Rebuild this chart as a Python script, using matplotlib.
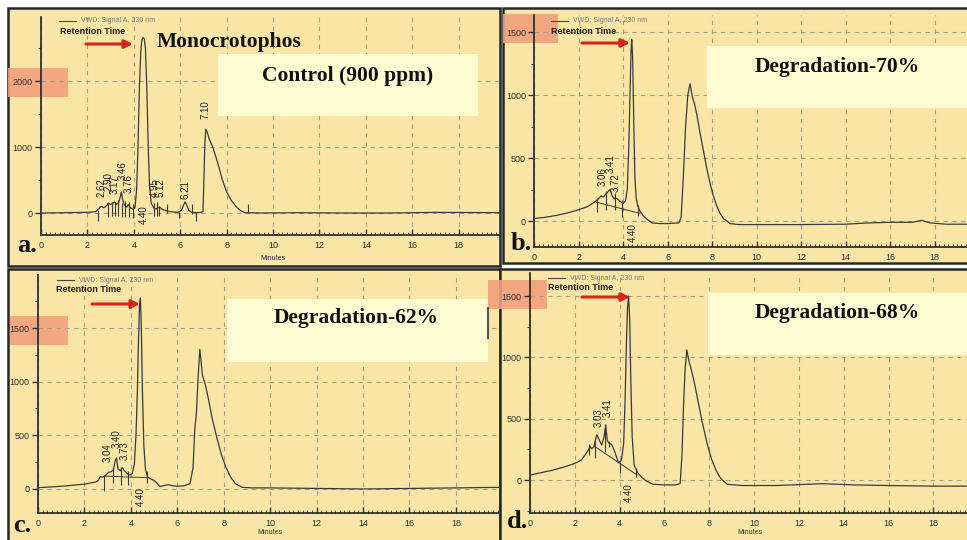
import matplotlib
matplotlib.use('Agg')
import matplotlib.pyplot as plt
from matplotlib.patches import Rectangle
from matplotlib.ticker import MultipleLocator

plt.rcParams['font.family'] = ['Liberation Sans', 'DejaVu Sans']

# ---- a. control (900 ppm) ----
t_ctrl = [0, 1.0, 2.0, 2.35, 2.45, 2.55, 2.62, 2.7, 2.8, 2.9, 3.0, 3.1, 3.17, 3.25, 3.35, 3.42,
          3.46, 3.52, 3.6, 3.7, 3.76, 3.85, 3.95, 4.05, 4.12, 4.18, 4.24, 4.3, 4.35, 4.4, 4.45,
          4.5, 4.56, 4.62, 4.68, 4.75, 4.85, 4.95, 5.05, 5.12, 5.2, 5.35, 5.6, 5.9, 6.05, 6.13,
          6.21, 6.29, 6.37, 6.5, 6.8, 6.98, 7.02, 7.06, 7.1, 7.15, 7.25, 7.4, 7.6, 7.8, 8.0,
          8.2, 8.4, 8.6, 8.8, 9.5, 11, 13, 15, 17, 19.8]
s_ctrl = [0, 5, 10, 20, 50, 90, 100, 80, 100, 150, 130, 150, 170, 130, 160, 250,
          320, 200, 120, 90, 130, 80, 60, 80, 350, 1000, 1900, 2450, 2630, 2660, 2640,
          2500, 1900, 1000, 400, 150, 80, 60, 80, 90, 60, 40, 20, 10, 40, 110,
          170, 110, 40, 10, 5, 20, 500, 1050, 1270, 1240, 1120, 1000, 780, 520, 320,
          190, 100, 35, 5, 0, 5, 0, 0, 10, 5]
tick_t_ctrl = [2.44, 2.9, 3.05, 3.2, 3.33, 3.5, 3.63, 3.8, 3.95, 4.88, 5.0, 5.1, 5.45, 5.95, 6.5, 6.68, 8.9]
tick_lo_ctrl = [-120, -60, -40, -40, -40, -60, -60, -60, -80, -40, -40, -40, 0, -80, -20, -120, 0]
tick_hi_ctrl = [50, 150, 170, 160, 200, 150, 180, 170, 140, 150, 160, 100, 130, 20, 130, 10, 130]
lbl_ctrl = ['2.62', '2.90', '3.17', '3.46', '3.76', '4.40', '4.95', '5.12', '6.21', '7.10']
lbl_x_ctrl = [2.6, 2.93, 3.17, 3.5, 3.8, 4.42, 4.9, 5.16, 6.21, 7.08]
lbl_y_ctrl = [240, 330, 290, 500, 300, 120, 240, 240, 220, 1420]

# ---- b. degradation 70 % ----
t_d70 = [0, 0.5, 1.0, 1.5, 2.0, 2.4, 2.7, 2.85, 3.0, 3.1, 3.2, 3.3, 3.4, 3.5, 3.6, 3.7, 3.8,
         3.9, 4.0, 4.1, 4.18, 4.25, 4.3, 4.35, 4.38, 4.42, 4.47, 4.52, 4.58, 4.65, 4.75, 4.9,
         5.1, 5.3, 5.6, 6.0, 6.5, 6.6, 6.7, 6.8, 6.9, 7.0, 7.1, 7.2, 7.3, 7.45, 7.6, 7.75,
         7.9, 8.05, 8.2, 8.35, 8.5, 8.8, 9.2, 10, 12, 14, 15, 16, 17, 17.4, 17.8, 18.5, 19.45]
s_d70 = [20, 30, 45, 65, 90, 115, 150, 170, 200, 190, 210, 230, 250, 200, 175, 180, 165,
         150, 140, 160, 250, 600, 1000, 1350, 1440, 1300, 800, 350, 180, 120, 80, 40,
         10, -15, -20, -20, -15, 30, 350, 750, 1000, 1090, 990, 930, 850, 700, 560, 420,
         300, 200, 120, 60, 20, -20, -28, -28, -28, -25, -15, -10, -10, 5, -15, -25, -25]
base_t_d70 = [2.8, 4.75]
base_s_d70 = [150, 60]
tick_t_d70 = [2.82, 3.24, 3.62, 3.95, 4.68]
tick_lo_d70 = [70, 90, 90, 30, 40]
tick_hi_d70 = [180, 240, 220, 170, 130]
lbl_d70 = ['3.06', '3.41', '3.72', '4.40']
lbl_x_d70 = [3.06, 3.43, 3.68, 4.42]
lbl_y_d70 = [275, 385, 230, -20]

# ---- c. degradation 62 % ----
t_d62 = [0, 1.0, 2.0, 2.5, 2.6, 2.68, 2.78, 2.9, 3.03, 3.15, 3.25, 3.32, 3.38, 3.45, 3.55,
         3.62, 3.72, 3.82, 3.92, 4.05, 4.15, 4.22, 4.28, 4.33, 4.37, 4.41, 4.45, 4.5, 4.56,
         4.63, 4.72, 4.85, 5.0, 5.12, 5.25, 5.4, 5.6, 5.8, 6.0, 6.3, 6.55, 6.68, 6.75, 6.82,
         6.9, 6.97, 7.02, 7.08, 7.2, 7.35, 7.5, 7.7, 7.9, 8.1, 8.3, 8.5, 8.8, 9.2, 10, 12,
         14, 16, 18, 19.9]
s_d62 = [12, 25, 45, 65, 80, 115, 110, 125, 155, 160, 180, 260, 290, 185, 170,
         200, 170, 150, 130, 140, 230, 500, 900, 1400, 1700, 1780, 1500, 900, 400,
         180, 110, 95, 80, 55, 22, 30, 40, 30, 25, 30, 50, 200, 550, 700,
         1050, 1300, 1200, 1060, 980, 830, 660, 480, 320, 200, 110, 50, 15, 10, 10, 5,
         0, 5, 10, 15]
base_t_d62 = [2.85, 4.7]
base_s_d62 = [120, 105]
tick_t_d62 = [2.84, 3.22, 3.58, 3.89, 4.68]
tick_lo_d62 = [-20, 60, 40, 40, 60]
tick_hi_d62 = [120, 200, 200, 170, 170]
lbl_d62 = ['3.04', '3.40', '3.73', '4.40']
lbl_x_d62 = [3.0, 3.39, 3.74, 4.43]
lbl_y_d62 = [254, 379, 270, 20]

# ---- d. degradation 68 % ----
t_d68 = [0, 0.5, 1.0, 1.5, 2.0, 2.3, 2.5, 2.62, 2.68, 2.75, 2.85, 2.98, 3.08, 3.2, 3.3,
         3.38, 3.45, 3.53, 3.65, 3.8, 3.95, 4.08, 4.18, 4.25, 4.3, 4.35, 4.4, 4.45, 4.5,
         4.56, 4.65, 4.8, 5.0, 5.2, 5.5, 6.0, 6.5, 6.7, 6.78, 6.85, 6.92, 7.0, 7.08, 7.2,
         7.35, 7.5, 7.7, 7.9, 8.1, 8.3, 8.5, 8.8, 9.5, 11, 13, 14.5, 16, 18, 19.5]
s_d68 = [40, 60, 80, 105, 135, 165, 215, 250, 275, 255, 270, 370, 330, 285, 350,
         450, 320, 300, 290, 220, 140, 160, 300, 700, 1100, 1400, 1500, 1300, 800,
         350, 120, 60, 20, -10, -35, -40, -40, -30, 200, 600, 900, 1060, 980, 900,
         780, 640, 460, 300, 170, 80, 15, -35, -45, -45, -30, -40, -45, -50, -50]
base_t_d68 = [2.9, 4.78]
base_s_d68 = [272, 41]
tick_t_d68 = [2.64, 2.88, 3.33, 3.54, 4.03, 4.74]
tick_lo_d68 = [200, 180, 230, 270, 60, 25]
tick_hi_d68 = [290, 340, 440, 320, 150, 100]
lbl_d68 = ['3.03', '3.41', '4.40']
lbl_x_d68 = [3.05, 3.47, 4.42]
lbl_y_d68 = [435, 516, -27]

titles = ['Control (900 ppm)', 'Degradation-70%', 'Degradation-62%', 'Degradation-68%']
letters = ['a.', 'b.', 'c.', 'd.']

W, H = 967, 540
YELLOW = '#f9e6a6'
BOX = '#fffbd3'
SALMON = '#f2a07c'
INK = '#3a3a3a'
RED = '#d3261b'

# layout in pixels: axes box (l, t, r, b), limits, y step, text box, arrow, etc.
panels = [
    dict(t=t_ctrl, s=s_ctrl, base=None, ticks=(tick_t_ctrl, tick_lo_ctrl, tick_hi_ctrl),
         lbl=(lbl_ctrl, lbl_x_ctrl, lbl_y_ctrl), ax=(41, 17, 500, 235), xmax=19.78,
         ylim=(-333, 2970), ystep=1000, box=(218, 54, 478, 116), title_xy=(348, 76),
         arrow=(86, 133, 44), rt=(60, 32), leg=(59, 21), letter_xy=(27, 246), minutes=(273, 258)),
    dict(t=t_d70, s=s_d70, base=(base_t_d70, base_s_d70), ticks=(tick_t_d70, tick_lo_d70, tick_hi_d70),
         lbl=(lbl_d70, lbl_x_d70, lbl_y_d70), ax=(534.3, 15, 967, 247), xmax=19.45,
         ylim=(-206, 1635), ystep=500, box=(707, 46, 967, 108), title_xy=(837, 67),
         arrow=(582, 630, 43), rt=(551, 31), leg=(551, 21), letter_xy=(521, 244), minutes=None),
    dict(t=t_d62, s=s_d62, base=(base_t_d62, base_s_d62), ticks=(tick_t_d62, tick_lo_d62, tick_hi_d62),
         lbl=(lbl_d62, lbl_x_d62, lbl_y_d62), ax=(38, 275, 500, 513), xmax=19.9,
         ylim=(-224, 1994), ystep=500, box=(227, 299, 488, 362), title_xy=(356, 318),
         arrow=(92, 140, 304), rt=(56, 290), leg=(57, 280), letter_xy=(22, 526), minutes=(270, 533)),
    dict(t=t_d68, s=s_d68, base=(base_t_d68, base_s_d68), ticks=(tick_t_d68, tick_lo_d68, tick_hi_d68),
         lbl=(lbl_d68, lbl_x_d68, lbl_y_d68), ax=(530, 273, 967, 513), xmax=19.5,
         ylim=(-269, 1688), ystep=500, box=(708, 293, 967, 355), title_xy=(837, 313),
         arrow=(582, 630, 297), rt=(548, 288), leg=(548, 278), letter_xy=(517, 522), minutes=(750, 532)),
]
frames = [(8, 8, 500, 266), (503, 8, 970, 263), (8, 269, 500, 545), (500, 269, 970, 545)]
salmon = [(8, 68, 68, 97), (503, 14, 558, 43), (10, 316, 68, 345), (488, 280, 547, 309)]

fig = plt.figure(figsize=(W / 100, H / 100), dpi=100)
fig.patch.set_facecolor('white')


def px_axes(l, t, r, b, z):
    return fig.add_axes([l / W, 1 - b / H, (r - l) / W, (b - t) / H], zorder=z)


bg = px_axes(0, 0, W, H, 0)
bg.set_xlim(0, W); bg.set_ylim(H, 0); bg.axis('off')
for x0, y0, x1, y1 in frames:
    bg.add_patch(Rectangle((x0, y0), x1 - x0, y1 - y0, fc=YELLOW, ec='#262626', lw=1.8))
for x0, y0, x1, y1 in salmon:
    bg.add_patch(Rectangle((x0, y0), x1 - x0, y1 - y0, fc=SALMON, ec='none', alpha=0.9))

top = px_axes(0, 0, W, H, 5)
top.set_xlim(0, W); top.set_ylim(H, 0); top.axis('off')

for i, p in enumerate(panels):
    ax = px_axes(*p['ax'], 2)
    ax.patch.set_visible(False)
    ax.plot(p['t'], p['s'], color=INK, lw=0.9)
    if p['base']:
        ax.plot(p['base'][0], p['base'][1], color=INK, lw=0.7)
    tt, lo, hi = p['ticks']
    ax.vlines(tt, lo, hi, color=INK, lw=0.8)
    for lab, x, y in zip(*p['lbl']):
        ax.text(x, y, lab, rotation=90, ha='center', va='top' if lab == '4.40' else 'bottom',
                fontsize=7, color='#222222')
    ax.set_xlim(0, p['xmax'])
    ax.set_ylim(*p['ylim'])
    ax.xaxis.set_major_locator(MultipleLocator(2))
    ax.xaxis.set_minor_locator(MultipleLocator(0.2))
    ax.yaxis.set_major_locator(MultipleLocator(p['ystep']))
    ax.yaxis.set_minor_locator(MultipleLocator(p['ystep'] / 2))
    for sp in ['top', 'right']:
        ax.spines[sp].set_visible(False)
    for sp in ['left', 'bottom']:
        ax.spines[sp].set_color('#303030')
        ax.spines[sp].set_linewidth(1.3)
    ax.tick_params(axis='x', which='major', direction='in', length=4, width=1, labelsize=6.5,
                   pad=4, colors='#303030')
    ax.tick_params(axis='x', which='minor', direction='in', length=2, width=0.6, colors='#303030')
    ax.tick_params(axis='y', which='major', direction='out', length=4, width=1, labelsize=6.5,
                   pad=2, colors='#303030')
    ax.tick_params(axis='y', which='minor', direction='out', length=2, width=0.6, colors='#303030')
    ax.grid(True, which='major', ls=(0, (4, 4)), color='#a69d80', lw=0.8)
    ax.set_axisbelow(True)

    # annotation layer (pixel coordinates)
    x0, y0, x1, y1 = p['box']
    top.add_patch(Rectangle((x0, y0), x1 - x0, y1 - y0, fc=BOX, ec='none'))
    top.text(*p['title_xy'], titles[i], ha='center', va='center', fontsize=15.5,
             fontweight='bold', family='Liberation Serif', color='#111111')
    ax0, ax1, ay = p['arrow']
    top.annotate('', xy=(ax1, ay), xytext=(ax0, ay),
                 arrowprops=dict(arrowstyle='-|>', color=RED, lw=2.2, mutation_scale=12,
                                 shrinkA=0, shrinkB=0))
    top.text(*p['rt'], 'Retention Time', ha='left', va='center', fontsize=6.5,
             fontweight='bold', color='#222222')
    lx, ly = p['leg']
    top.plot([lx, lx + 17], [ly, ly], color='#444444', lw=0.8)
    top.text(lx + 22, ly, 'VWD: Signal A, 230 nm', ha='left', va='center', fontsize=5,
             color='#777777')
    top.text(*p['letter_xy'], letters[i], ha='center', va='center', fontsize=19,
             fontweight='bold', family='Liberation Serif', color='#111111')
    if p['minutes']:
        top.text(*p['minutes'], 'Minutes', ha='center', va='center', fontsize=5,
                 color='#333333')

top.text(229, 42, 'Monocrotophos', ha='center', va='center', fontsize=15.5,
         fontweight='bold', family='Liberation Serif', color='#111111')
top.plot([488, 488], [308, 338], color='#555555', lw=1.5)

fig.savefig('out.png', dpi=100, facecolor=fig.get_facecolor())
